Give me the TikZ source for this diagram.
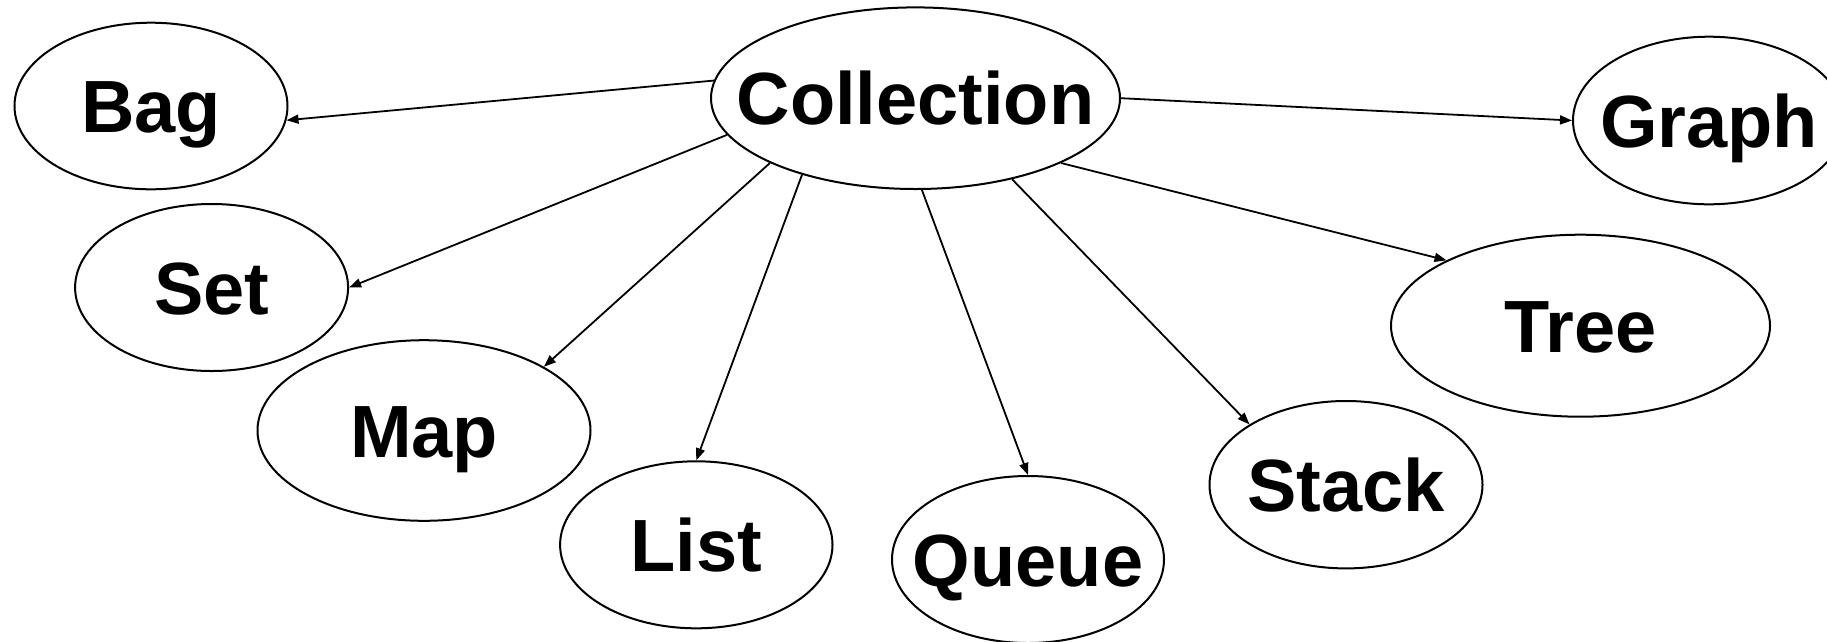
\documentclass[tikz,border=0pt]{standalone}
\usepackage{fontspec}
\setmainfont{Liberation Sans}
\usetikzlibrary{shapes.geometric,arrows.meta}
\tikzset{
  item/.style={ellipse, draw, line width=2pt, inner sep=0pt,
    font=\fontsize{74}{88}\selectfont\bfseries,
    text height=53pt, text depth=0pt},
  link/.style={line width=1.8pt, -{Triangle[length=12pt,width=9pt]}}
}
\newcommand{\lbl}[1]{\makebox[0pt]{#1}}
\begin{document}
\begin{tikzpicture}[x=1pt,y=-1pt]
  \path[use as bounding box] (0,0) rectangle (1827,641);

  % hub and the kinds of collections
  \node[item, minimum width=409pt, minimum height=181.6pt] (coll)  at (915.5,98.2) {\lbl{Collection}};
  \node[item, minimum width=273pt, minimum height=166.6pt] (bag)   at (151,106)    {\lbl{Bag}};
  \node[item, minimum width=273pt, minimum height=167pt]   (set)   at (211.6,287.5) {\lbl{Set}};
  \node[item, minimum width=333pt, minimum height=180.6pt] (map)   at (424,430.5)  {\lbl{Map}};
  \node[item, minimum width=272.4pt, minimum height=167pt] (list)  at (696.3,544.8) {\lbl{List}};
  \node[item, minimum width=272pt, minimum height=167pt]   (queue) at (1028,559.5) {\lbl{Queue}};
  \node[item, minimum width=273pt, minimum height=167.4pt] (stack) at (1346,484.7) {\lbl{Stack}};
  \node[item, minimum width=379pt, minimum height=182pt]   (tree)  at (1580.5,325.7) {\lbl{Tree}};
  \node[item, minimum width=272pt, minimum height=167.6pt] (graph) at (1709,120.5) {\lbl{Graph}};

  % connectors from the hub
  \draw[link] (coll.175.8) -- (bag.-6.1);
  \draw[link] (coll.191.9) -- (set.0);
  \draw[link] (coll.204.3) -- (map.28.5);
  \draw[link] (coll.214.2) -- (list.90);
  \draw[link] (coll.-86)   -- (queue.90);
  \draw[link] (coll.-40.1) -- (stack.148.5);
  \draw[link] (coll.-24)   -- (tree.154.6);
  \draw[link] (coll.0)     -- (graph.180);
\end{tikzpicture}
\end{document}
